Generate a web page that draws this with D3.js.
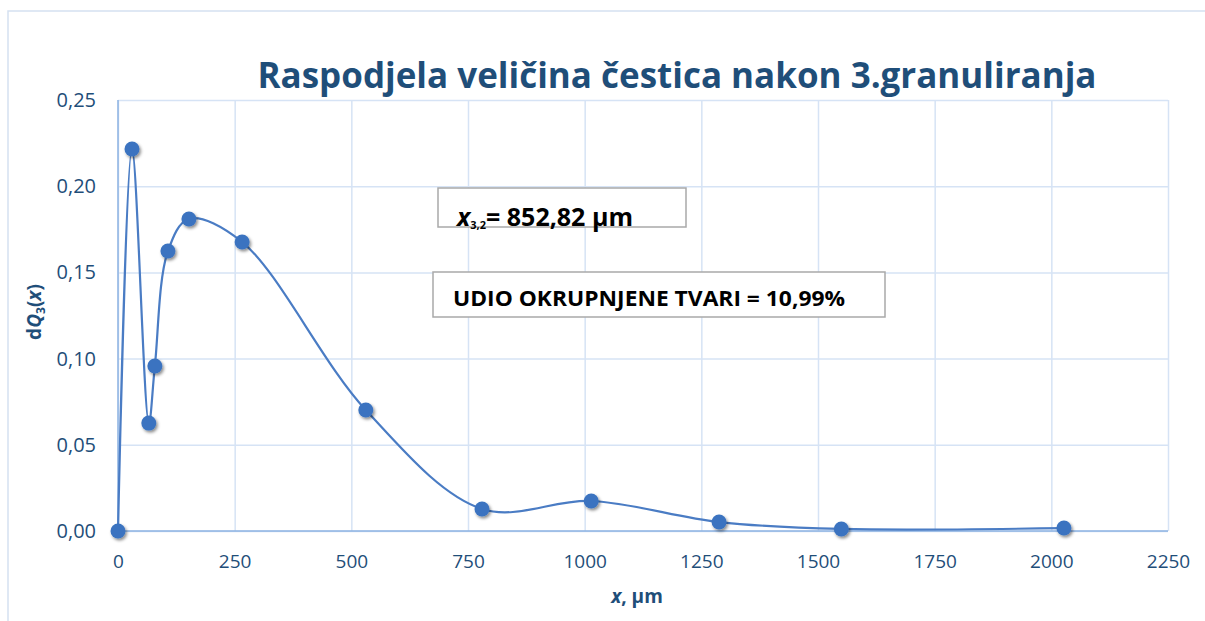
<!DOCTYPE html>
<html>
<head>
<meta charset="utf-8">
<script src="https://cdn.jsdelivr.net/npm/d3@7"></script>
<style>
  body { margin: 0; background: #fff; }
  svg { font-family: "Open Sans", "Noto Sans", sans-serif; }
</style>
</head>
<body>
<script>
// values
const sizes = [0, 30, 66, 79, 107, 152, 266, 531, 780, 1014, 1288, 1550, 2027];
const dq3 = [0, 0.2216, 0.0626, 0.0957, 0.1624, 0.1810, 0.1676, 0.0702, 0.0128, 0.0174, 0.0052, 0.0012, 0.0017];
const xTicks = [0, 250, 500, 750, 1000, 1250, 1500, 1750, 2000, 2250];
const yTicks = [0, 0.05, 0.10, 0.15, 0.20, 0.25];

const W = 1205, H = 621;
const margin = { left: 118, right: 37, top: 100, bottom: 90 };

const svg = d3.select("body").append("svg")
    .attr("width", W)
    .attr("height", H);

const defs = svg.append("defs");
const f = defs.append("filter").attr("id", "shadow")
    .attr("x", "-50%").attr("y", "-50%").attr("width", "200%").attr("height", "200%");
f.append("feDropShadow").attr("dx", 1.5).attr("dy", 2).attr("stdDeviation", 1.6)
    .attr("flood-color", "#000").attr("flood-opacity", 0.45);

// outer chart border
svg.append("rect")
    .attr("x", 8).attr("y", 11)
    .attr("width", W + 10).attr("height", H)
    .attr("fill", "none").attr("stroke", "#d5e1f1").attr("stroke-width", 1.5);

const x = d3.scaleLinear().domain([0, 2250]).range([margin.left, W - margin.right]);
const y = d3.scaleLinear().domain([0, 0.25]).range([H - margin.bottom, margin.top]);

const fmt = d => d3.format(".2f")(d).replace(".", ",");
const blue = "#1f4e79";

// grid
svg.append("g")
    .attr("transform", `translate(0,${y(0)})`)
    .call(d3.axisBottom(x).tickValues(xTicks).tickSize(-(y(0) - y(0.25))).tickFormat(""))
    .call(g => g.select(".domain").remove())
    .call(g => g.selectAll("line").attr("stroke", "#d6e3f5").attr("stroke-width", 1.5));

svg.append("g")
    .attr("transform", `translate(${margin.left},0)`)
    .call(d3.axisLeft(y).tickValues(yTicks).tickSize(-(x(2250) - x(0))).tickFormat(""))
    .call(g => g.select(".domain").remove())
    .call(g => g.selectAll("line").attr("stroke", "#d6e3f5").attr("stroke-width", 1.5));

// axis lines
svg.append("line")
    .attr("x1", x(0)).attr("x2", x(0)).attr("y1", y(0.25)).attr("y2", y(0))
    .attr("stroke", "#8db3e2").attr("stroke-width", 1.5);
svg.append("line")
    .attr("x1", x(0)).attr("x2", x(2250)).attr("y1", y(0)).attr("y2", y(0))
    .attr("stroke", "#8db3e2").attr("stroke-width", 1.5);

// tick labels
const xAxis = svg.append("g")
    .attr("transform", `translate(0,${y(0)})`)
    .call(d3.axisBottom(x).tickValues(xTicks).tickSize(0).tickPadding(24).tickFormat(d3.format("d")));
xAxis.select(".domain").remove();
xAxis.selectAll("text").attr("fill", blue).attr("font-size", 19)
    .attr("font-family", "'Open Sans', sans-serif");

const yAxis = svg.append("g")
    .attr("transform", `translate(${margin.left},0)`)
    .call(d3.axisLeft(y).tickValues(yTicks).tickSize(0).tickPadding(22).tickFormat(fmt));
yAxis.select(".domain").remove();
yAxis.selectAll("text").attr("fill", blue).attr("font-size", 20)
    .attr("font-family", "'Open Sans', sans-serif");

// title
svg.append("text")
    .attr("x", 677).attr("y", 88)
    .attr("text-anchor", "middle")
    .attr("font-size", 35).attr("font-weight", "bold")
    .attr("textLength", 839).attr("lengthAdjust", "spacingAndGlyphs")
    .attr("fill", blue)
    .text("Raspodjela veličina čestica nakon 3.granuliranja");

// axis titles
const yl = svg.append("text")
    .attr("transform", "translate(41,312) rotate(-90)")
    .attr("text-anchor", "middle")
    .attr("font-size", 19).attr("font-weight", "bold").attr("fill", blue);
yl.append("tspan").text("d");
yl.append("tspan").attr("font-style", "italic").text("Q");
yl.append("tspan").attr("font-size", 12).attr("dy", 4).text("3");
yl.append("tspan").attr("dy", -4).text("(");
yl.append("tspan").attr("font-style", "italic").text("x");
yl.append("tspan").text(")");

const xl = svg.append("text")
    .attr("x", 637).attr("y", 603)
    .attr("text-anchor", "middle")
    .attr("font-size", 19).attr("font-weight", "bold").attr("fill", blue);
xl.append("tspan").attr("font-style", "italic").text("x");
xl.append("tspan").text(", µm");

// data line
const pts = sizes.map((s, i) => [s, dq3[i]]);
const line = d3.line()
    .x(d => x(d[0]))
    .y(d => y(d[1]))
    .curve(d3.curveCatmullRom.alpha(0.5));

svg.append("path")
    .datum(pts)
    .attr("d", line)
    .attr("fill", "none")
    .attr("stroke", "#4a7cc4")
    .attr("stroke-width", 2.2);

svg.append("g").selectAll("circle")
    .data(pts)
    .join("circle")
    .attr("cx", d => x(d[0]))
    .attr("cy", d => y(d[1]))
    .attr("r", 7.5)
    .attr("fill", "#3a73c0")
    .attr("filter", "url(#shadow)");

// text boxes
svg.append("rect")
    .attr("x", 438).attr("y", 188).attr("width", 248).attr("height", 39)
    .attr("fill", "#fff").attr("stroke", "#a9a9a9").attr("stroke-width", 1.5);
const t1 = svg.append("text")
    .attr("x", 457).attr("y", 226)
    .attr("font-size", 25).attr("font-weight", "bold").attr("fill", "#000");
t1.append("tspan").attr("font-style", "italic").text("x");
t1.append("tspan").attr("font-size", 11).attr("dy", 3).text("3,2");
t1.append("tspan").attr("dy", -3).text("= 852,82 µm");

svg.append("rect")
    .attr("x", 433).attr("y", 272).attr("width", 452).attr("height", 45)
    .attr("fill", "#fff").attr("stroke", "#a9a9a9").attr("stroke-width", 1.5);
svg.append("text")
    .attr("x", 453).attr("y", 306)
    .attr("font-size", 22).attr("font-weight", "bold").attr("fill", "#000")
    .attr("textLength", 392).attr("lengthAdjust", "spacingAndGlyphs")
    .text("UDIO OKRUPNJENE TVARI = 10,99%");
</script>
</body>
</html>
